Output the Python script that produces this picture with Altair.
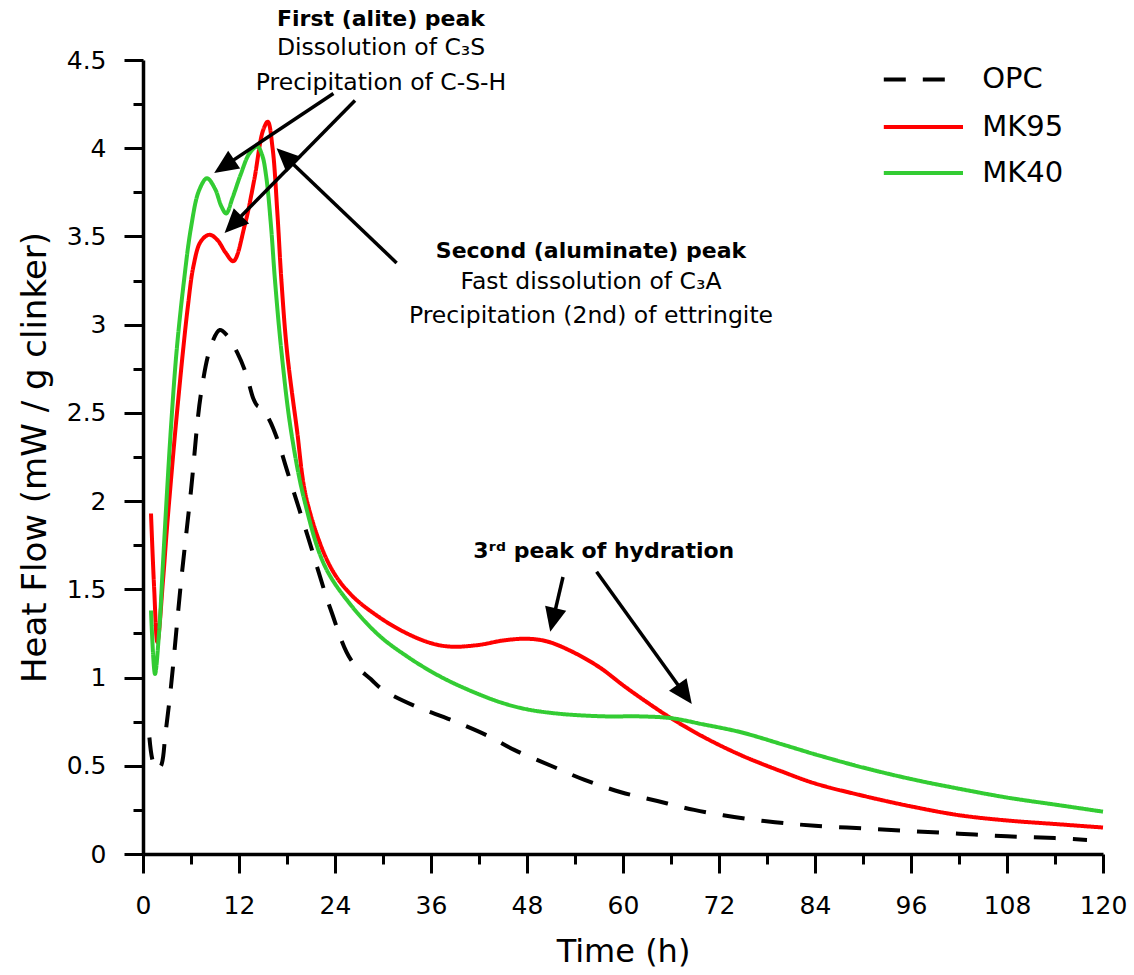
import math
import altair as alt
import pandas as pd

# ---------------- data ----------------
opc_t = [0.8, 1.2, 1.7, 2.25, 2.8, 3.5, 4.75, 6.0, 7.25, 8.5, 9.6, 10.5, 11.8, 12.9, 13.8,
         14.3, 14.8, 15.8, 16.8, 18.1, 20.6, 23.5, 26.0, 28.5, 30.0, 33.9, 38.5, 43.1,
         46.4, 51.0, 55.2, 59.75, 64.3, 68.9, 73.9, 79.0, 84.0, 90.0, 96.0, 102.0, 108.0,
         114.0, 118.0]
opc_v = [0.66, 0.53, 0.48, 0.50, 0.68, 0.95, 1.54, 2.06, 2.61, 2.88, 2.97, 2.94, 2.84, 2.72,
         2.58, 2.54, 2.53, 2.46, 2.35, 2.16, 1.80, 1.38, 1.10, 0.99, 0.93, 0.84, 0.76, 0.67,
         0.59, 0.50, 0.42, 0.35, 0.30, 0.25, 0.21, 0.18, 0.16, 0.145, 0.13, 0.115, 0.10,
         0.09, 0.08]

mk95_t = [1.0, 1.4, 1.8, 2.5, 3.0, 3.5, 4.0, 4.5, 5.0, 5.6, 6.3, 7.2, 8.3, 9.3, 10.3, 11.3,
          12.7, 13.9, 15.0, 15.6, 16.2, 16.8, 17.3, 18.0, 19.2, 20.5, 23.4, 26.0, 29.6, 33.0,
          36.0, 38.5, 42.0, 45.0, 48.0, 50.5, 53.5, 57.0, 60.2, 63.0, 66.0, 70.0, 74.75,
          80.0, 84.0, 90.0, 96.0, 102.0, 108.0, 114.0, 120.0]
mk95_v = [1.93, 1.50, 1.20, 1.55, 1.85, 2.12, 2.38, 2.62, 2.85, 3.10, 3.33, 3.47, 3.51, 3.48,
          3.41, 3.36, 3.56, 3.82, 4.10, 4.15, 4.00, 3.63, 3.25, 2.85, 2.42, 2.00, 1.63, 1.47,
          1.34, 1.25, 1.195, 1.175, 1.185, 1.21, 1.22, 1.205, 1.15, 1.06, 0.95, 0.86, 0.77,
          0.665, 0.56, 0.465, 0.40, 0.33, 0.27, 0.22, 0.19, 0.17, 0.15]

mk40_t = [1.0, 1.5, 2.0, 2.5, 3.0, 3.5, 4.2, 5.1, 6.0, 7.0, 8.0, 9.0, 9.8, 10.4, 11.2, 12.2,
          13.3, 14.3, 14.9, 15.4, 16.0, 16.5, 17.3, 18.5, 20.2, 22.75, 26.0, 29.6, 33.0, 36.0,
          38.5, 42.0, 45.0, 48.0, 52.0, 57.7, 62.0, 66.0, 70.0, 74.75, 80.0, 84.0, 90.0,
          96.0, 102.0, 108.0, 114.0, 120.0]
mk40_v = [1.38, 1.02, 1.25, 1.65, 2.05, 2.42, 2.85, 3.24, 3.55, 3.76, 3.83, 3.77, 3.67, 3.63,
          3.72, 3.85, 3.97, 4.01, 3.96, 3.84, 3.56, 3.25, 2.85, 2.40, 2.00, 1.63, 1.41, 1.235,
          1.12, 1.035, 0.975, 0.905, 0.855, 0.82, 0.795, 0.78, 0.78, 0.77, 0.735, 0.69, 0.62,
          0.565, 0.49, 0.425, 0.37, 0.32, 0.28, 0.24]

series_names = ["OPC", "MK95", "MK40"]
series_colors = ["#000000", "#FF0000", "#33CC33"]
series_dash = [[22, 17], [1, 0], [1, 0]]
series_width = [4, 4, 2.4]

x_ticks = list(range(0, 121, 6))
y_ticks = [i * 0.25 for i in range(19)]

# annotation texts (data coordinates of text anchor)
note_text = ["First (alite) peak", "Dissolution of C\u2083S", "Precipitation of C-S-H",
             "Second (aluminate) peak", "Fast dissolution of C\u2083A",
             "Precipitation (2nd) of ettringite", "3\u02b3\u1d48 peak of hydration"]
note_bold = [True, False, False, True, False, False, True]
note_x = [29.75, 29.75, 29.75, 56.0, 56.0, 56.0, 57.6]
note_y = [4.69, 4.53, 4.33, 3.38, 3.20, 3.01, 1.675]

# arrows: start -> tip (data coordinates)
arrow_x0 = [23.8, 26.5, 31.7, 52.5, 56.7]
arrow_y0 = [4.31, 4.27, 3.35, 1.57, 1.60]
arrow_x1 = [8.9, 10.2, 16.7, 50.9, 68.6]
arrow_y1 = [3.86, 3.52, 4.00, 1.26, 0.85]

# legend entries (data coordinates)
leg_x0 = [92.6, 92.6, 92.6]
leg_x1 = [100.3, 102.5, 102.5]
leg_y = [4.39, 4.12, 3.86]
leg_label_x = 104.9

# ---------------- layout ----------------
W, H = 960, 794
XMAX, YMAX = 120, 4.5
PX_X = W / XMAX
PX_Y = H / YMAX
FONT = "DejaVu Sans"

curves = pd.concat([
    pd.DataFrame({"t": opc_t, "v": opc_v, "series": "OPC"}),
    pd.DataFrame({"t": mk95_t, "v": mk95_v, "series": "MK95"}),
    pd.DataFrame({"t": mk40_t, "v": mk40_v, "series": "MK40"}),
], ignore_index=True)

color_scale = alt.Scale(domain=series_names, range=series_colors)
dash_scale = alt.Scale(domain=series_names, range=series_dash)
width_scale = alt.Scale(domain=series_names, range=series_width)

x_scale = alt.Scale(domain=[0, XMAX], nice=False, zero=False)
y_scale = alt.Scale(domain=[0, YMAX], nice=False, zero=False)

x_axis = alt.Axis(
    values=x_ticks,
    labelExpr="datum.value % 12 === 0 ? datum.label : ''",
    tickSize={"condition": {"test": "datum.value % 12 === 0", "value": 19}, "value": 10},
    title="Time (h)", grid=False, labelFont=FONT, labelFontSize=25, labelColor="black",
    labelPadding=20, titleFont=FONT, titleFontSize=32, titleFontWeight="normal",
    titleColor="black", titlePadding=18, domainColor="black", domainWidth=3.5,
    tickColor="black", tickWidth=3, labelFlush=False, labelOverlap=False,
)
y_axis = alt.Axis(
    values=y_ticks,
    labelExpr="datum.value % 0.5 === 0 ? format(datum.value, '~g') : ''",
    tickSize={"condition": {"test": "datum.value % 0.5 === 0", "value": 19}, "value": 10},
    title="Heat Flow (mW / g clinker)", grid=False, labelFont=FONT, labelFontSize=25,
    labelColor="black", labelPadding=18, titleFont=FONT, titleFontSize=34,
    titleFontWeight="normal", titleColor="black", titlePadding=14, domainColor="black",
    domainWidth=3.5, tickColor="black", tickWidth=3, labelFlush=False, labelOverlap=False,
)

base = alt.Chart(curves).encode(
    x=alt.X("t:Q", scale=x_scale, axis=x_axis),
    y=alt.Y("v:Q", scale=y_scale, axis=y_axis),
    color=alt.Color("series:N", scale=color_scale, legend=None),
    strokeDash=alt.StrokeDash("series:N", scale=dash_scale, legend=None),
    strokeWidth=alt.StrokeWidth("series:N", scale=width_scale, legend=None),
)
line_layers = [
    base.transform_filter(alt.datum.series == s).mark_line(interpolate="catmull-rom")
    for s in series_names
]

# arrows
arrow_rows = []
for xs, ys, xt, yt in zip(arrow_x0, arrow_y0, arrow_x1, arrow_y1):
    dx = (xt - xs) * PX_X
    dy = -(yt - ys) * PX_Y
    L = math.hypot(dx, dy)
    ux, uy = dx / L, dy / L
    back = 14
    arrow_rows.append({
        "x0": xs, "y0": ys,
        "xe": xt - ux * back / PX_X, "ye": yt + uy * back / PX_Y,
        "xt": xt, "yt": yt,
        "ang": math.degrees(math.atan2(dx, -dy)) % 360,
    })
arrows = pd.DataFrame(arrow_rows)

arrow_lines = alt.Chart(arrows).mark_rule(color="black", strokeWidth=3.5).encode(
    x=alt.X("x0:Q", scale=x_scale), y=alt.Y("y0:Q", scale=y_scale),
    x2="xe:Q", y2="ye:Q",
)
arrow_heads = alt.Chart(arrows).mark_point(
    shape="M0,0L0.45,1L-0.45,1Z", filled=True, color="black", opacity=1,
    size=2304, strokeWidth=0,
).encode(
    x=alt.X("xt:Q", scale=x_scale), y=alt.Y("yt:Q", scale=y_scale),
    angle=alt.Angle("ang:Q", scale=None),
)

notes = pd.DataFrame({"text": note_text, "bold": note_bold, "x": note_x, "y": note_y})
notes_bold = alt.Chart(notes).transform_filter(alt.datum.bold == True).mark_text(
    font=FONT, fontSize=22, fontWeight="bold", color="black", align="center",
    baseline="alphabetic",
).encode(x=alt.X("x:Q", scale=x_scale), y=alt.Y("y:Q", scale=y_scale), text="text:N")
notes_reg = alt.Chart(notes).transform_filter(alt.datum.bold == False).mark_text(
    font=FONT, fontSize=23.5, color="black", align="center", baseline="alphabetic",
).encode(x=alt.X("x:Q", scale=x_scale), y=alt.Y("y:Q", scale=y_scale), text="text:N")

legend_df = pd.DataFrame({"series": series_names, "x0": leg_x0, "x1": leg_x1, "y": leg_y,
                          "lx": [leg_label_x] * 3})
legend_lines = alt.Chart(legend_df).mark_rule().encode(
    x=alt.X("x0:Q", scale=x_scale), x2="x1:Q", y=alt.Y("y:Q", scale=y_scale),
    color=alt.Color("series:N", scale=color_scale, legend=None),
    strokeDash=alt.StrokeDash("series:N", scale=dash_scale, legend=None),
    strokeWidth=alt.StrokeWidth("series:N", scale=width_scale, legend=None),
)
legend_text = alt.Chart(legend_df).mark_text(
    font=FONT, fontSize=29, color="black", align="left", baseline="middle",
).encode(x=alt.X("lx:Q", scale=x_scale), y=alt.Y("y:Q", scale=y_scale), text="series:N")

chart = alt.layer(
    *line_layers, arrow_lines, arrow_heads, notes_bold, notes_reg, legend_lines, legend_text
).properties(
    width=W, height=H,
    autosize=alt.AutoSizeParams(type="none"),
    padding={"left": 143, "top": 60, "right": 31, "bottom": 121},
    background="white",
).configure_view(stroke=None)

chart.save("out.html", embed_options={"renderer": "svg", "actions": False})
